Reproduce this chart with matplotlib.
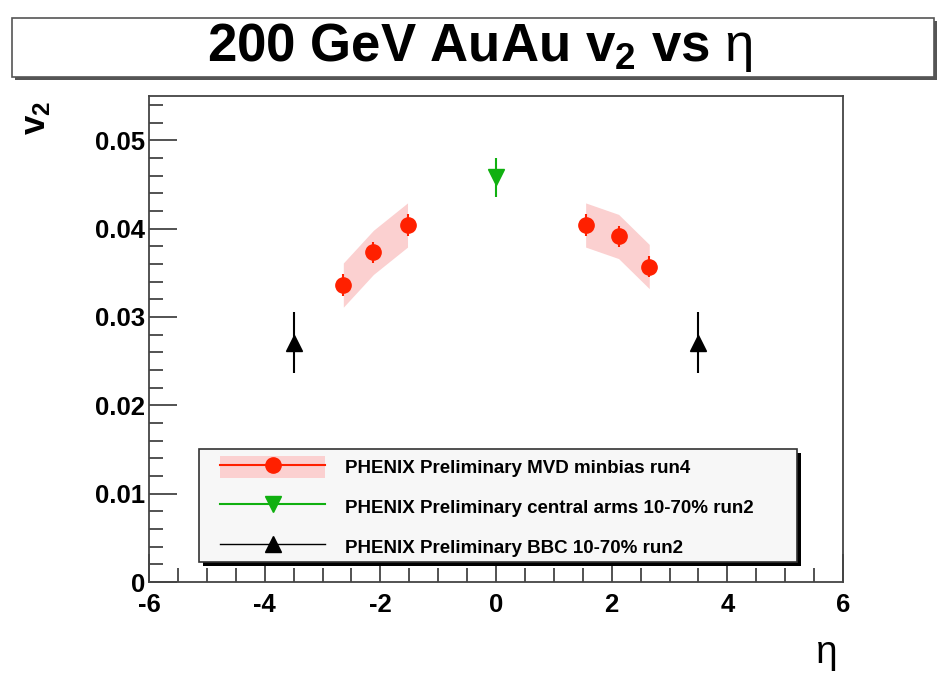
import matplotlib
matplotlib.use("Agg")
import matplotlib.pyplot as plt
from matplotlib.patches import Rectangle, Patch
from matplotlib.lines import Line2D
from matplotlib.ticker import MultipleLocator
from matplotlib.legend_handler import HandlerTuple
import numpy as np

plt.rcParams['font.family'] = ['Liberation Sans', 'DejaVu Sans']
plt.rcParams['mathtext.fontset'] = 'custom'
plt.rcParams['mathtext.rm'] = 'Liberation Sans'
plt.rcParams['mathtext.bf'] = 'Liberation Sans:bold'
plt.rcParams['mathtext.default'] = 'bf'

# ---- data ----
mvd_eta = [-2.64, -2.12, -1.53, 1.55, 2.12, 2.65]
mvd_v2 = [0.0336, 0.0373, 0.0404, 0.0404, 0.0391, 0.0357]
mvd_err = [0.0012, 0.0012, 0.0012, 0.0012, 0.0012, 0.0012]
mvd_sys = [0.0025, 0.0025, 0.0025, 0.0025, 0.0025, 0.0025]

ca_eta = [0.0]
ca_v2 = [0.0458]
ca_err = [0.0022]

bbc_eta = [-3.5, 3.5]
bbc_v2 = [0.0271, 0.0271]
bbc_err = [0.0034, 0.0034]

labels = ["PHENIX Preliminary MVD minbias run4",
          "PHENIX Preliminary central arms 10-70% run2",
          "PHENIX Preliminary BBC 10-70% run2"]

W, H = 946, 675
fig = plt.figure(figsize=(W / 100, H / 100), dpi=100)
ax = fig.add_axes([149 / W, 1 - 582 / H, (843 - 149) / W, (582 - 96) / H])

red = '#ff2000'
pink = '#fbd0d0'
green = '#10b010'

mvd_eta_a = np.array(mvd_eta)
mvd_v2_a = np.array(mvd_v2)
mvd_sys_a = np.array(mvd_sys)
for side in (mvd_eta_a < 0, mvd_eta_a > 0):
    ax.fill_between(mvd_eta_a[side], (mvd_v2_a - mvd_sys_a)[side],
                    (mvd_v2_a + mvd_sys_a)[side], color=pink, lw=0, zorder=1)

ax.errorbar(mvd_eta, mvd_v2, yerr=mvd_err, fmt='o', color=red, ms=11,
            elinewidth=1.5, capsize=0, zorder=3)
ax.errorbar(ca_eta, ca_v2, yerr=ca_err, fmt='v', color=green, ms=11,
            elinewidth=1.5, capsize=0, zorder=3)
ax.errorbar(bbc_eta, bbc_v2, yerr=bbc_err, fmt='^', color='black', ms=11,
            elinewidth=1.5, capsize=0, zorder=3)

ax.set_xlim(-6, 6)
ax.set_ylim(0, 0.055)
ax.xaxis.set_major_locator(MultipleLocator(2))
ax.xaxis.set_minor_locator(MultipleLocator(0.5))
ax.yaxis.set_major_locator(MultipleLocator(0.01))
ax.yaxis.set_minor_locator(MultipleLocator(0.002))
ax.tick_params(which='both', direction='in', top=False, right=False,
               color='#444444', width=1.3)
ax.tick_params(which='major', length=20)
ax.tick_params(which='minor', length=10)
ax.tick_params(axis='y', labelsize=18.5, pad=3)
ax.tick_params(axis='x', labelsize=18.5, pad=8)
ax.set_yticks([0, 0.01, 0.02, 0.03, 0.04, 0.05])
ax.set_yticklabels(['0', '0.01', '0.02', '0.03', '0.04', '0.05'])
ax.set_xticks([-6, -4, -2, 0, 2, 4, 6])
ax.set_xticklabels(['-6', '-4', '-2', '0', '2', '4', '6'])
for lab in ax.get_xticklabels() + ax.get_yticklabels():
    lab.set_fontweight('bold')
for sp in ax.spines.values():
    sp.set_color('#444444')
    sp.set_linewidth(1.3)

# legend frame (ROOT style with black shadow)
fig.patches.append(Rectangle((203 / W, 1 - 566 / H), (801 - 203) / W, (566 - 453) / H,
                             transform=fig.transFigure, facecolor='black',
                             edgecolor='none', zorder=3))
fig.patches.append(Rectangle((199 / W, 1 - 562 / H), (797 - 199) / W, (562 - 449) / H,
                             transform=fig.transFigure, facecolor='#f7f7f7',
                             edgecolor='#333333', lw=1.2, zorder=3.5))

h1 = (Patch(facecolor=pink, edgecolor='none'),
      Line2D([], [], color=red, marker='o', ms=11, lw=1.5))
h2 = Line2D([], [], color=green, marker='v', ms=11, lw=1.5)
h3 = Line2D([], [], color='black', marker='^', ms=11, lw=1.0)
leg = fig.legend([h1, h2, h3], labels, loc='upper left',
                 bbox_to_anchor=(220 / W, 1 - 456 / H), borderaxespad=0,
                 handler_map={tuple: HandlerTuple(ndivide=1, pad=0)},
                 prop={'size': 13.5, 'weight': 'bold'}, handlelength=5.6,
                 handleheight=1.4, handletextpad=1.05, labelspacing=0.97,
                 borderpad=0, frameon=False)
leg.set_zorder(5)

# title box
fig.patches.append(Rectangle((15 / W, 1 - 80 / H), (937 - 15) / W, (80 - 21) / H,
                             transform=fig.transFigure, facecolor='#555555',
                             edgecolor='none', zorder=0))
fig.patches.append(Rectangle((12 / W, 1 - 77 / H), (934 - 12) / W, (77 - 18) / H,
                             transform=fig.transFigure, facecolor='white',
                             edgecolor='#555555', lw=1.2, zorder=1))
fig.text(480 / W, 1 - 47 / H, r'200 GeV AuAu v$_2$ vs $\mathrm{\eta}$', ha='center',
         va='center', fontsize=38, fontweight='bold', zorder=2)

# axis labels
fig.text(36 / W, 1 - 118 / H, r'v$_2$', rotation=90, ha='center', va='center',
         fontsize=25, fontweight='bold')
fig.text(826 / W, 1 - 655 / H, r'$\mathrm{\eta}$', ha='center', va='center', fontsize=28)

fig.savefig('out.png', dpi=100)
